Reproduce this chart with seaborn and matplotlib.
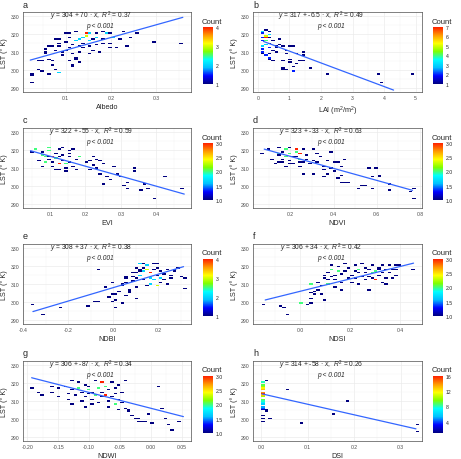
import numpy as np
import pandas as pd
import seaborn as sns
import matplotlib.pyplot as plt
from matplotlib.colors import LinearSegmentedColormap
from matplotlib.ticker import FixedLocator

# (x, LST, count) cells, one list per panel
a_pts = [
    (0.022, 293.2, 1), (0.024, 298.2, 1), (0.028, 297.4, 1), (0.038, 305.4, 1), (0.046, 305.3, 1),
    (0.044, 300.6, 1), (0.048, 299.6, 1), (0.052, 309.4, 1), (0.056, 310.3, 1), (0.063, 298.4, 1),
    (0.066, 306.4, 1), (0.070, 305.6, 1), (0.073, 302.6, 1), (0.077, 300.3, 1), (0.084, 299.0, 2),
    (0.058, 312.0, 1), (0.064, 313.6, 1), (0.070, 313.0, 1), (0.075, 311.2, 1), (0.080, 317.0, 1),
    (0.086, 317.2, 1), (0.089, 315.0, 1), (0.091, 310.2, 1), (0.095, 308.3, 1), (0.098, 320.1, 1),
    (0.100, 316.0, 1), (0.103, 311.0, 1), (0.106, 318.2, 1), (0.108, 312.5, 1), (0.110, 305.0, 1),
    (0.112, 303.0, 1), (0.113, 301.8, 1), (0.116, 314.2, 1), (0.118, 309.1, 1), (0.121, 316.3, 2),
    (0.123, 307.2, 1), (0.126, 306.4, 1), (0.128, 313.2, 1), (0.131, 317.3, 2), (0.133, 310.1, 1),
    (0.136, 318.2, 2), (0.139, 315.1, 1), (0.141, 312.2, 1), (0.144, 320.8, 4), (0.146, 319.2, 3),
    (0.149, 316.2, 2), (0.151, 309.5, 1), (0.153, 313.3, 1), (0.156, 320.1, 2), (0.159, 317.2, 1),
    (0.161, 311.1, 1), (0.166, 314.2, 1), (0.169, 318.3, 2), (0.171, 320.2, 1), (0.175, 310.4, 1),
    (0.179, 315.2, 1), (0.181, 320.9, 1), (0.186, 317.3, 1), (0.191, 320.2, 2), (0.195, 315.1, 1),
    (0.199, 320.3, 1), (0.201, 312.4, 1), (0.206, 318.2, 2), (0.211, 312.8, 1), (0.218, 317.2, 1),
    (0.226, 321.2, 1), (0.235, 313.5, 1), (0.240, 318.1, 1), (0.255, 320.4, 1), (0.298, 315.5, 1),
    (0.358, 314.5, 1), (0.110, 320.4, 1), (0.122, 321.1, 1), (0.085, 313.2, 1), (0.128, 304.3, 1),
]
b_pts = [
    (0.10, 313.2, 1), (0.12, 311.3, 2), (0.15, 316.2, 2), (0.16, 320.3, 2), (0.20, 321.2, 3),
    (0.24, 319.2, 5), (0.30, 318.1, 7), (0.30, 316.2, 4), (0.25, 314.2, 3), (0.35, 312.3, 2),
    (0.20, 310.2, 2), (0.30, 308.2, 2), (0.36, 307.1, 2), (0.41, 309.3, 1), (0.46, 305.4, 1),
    (0.20, 313.1, 2), (0.40, 315.2, 1), (0.36, 321.1, 1), (0.50, 316.2, 1), (0.55, 312.3, 1),
    (0.60, 310.2, 1), (0.64, 317.2, 1), (0.72, 314.2, 1), (0.77, 300.3, 1), (0.80, 313.1, 1),
    (0.84, 301.6, 1), (0.90, 309.2, 1), (0.95, 300.2, 1), (1.00, 313.3, 1), (1.04, 306.1, 1),
    (1.06, 304.2, 1), (1.10, 299.6, 2), (1.15, 302.4, 1), (1.20, 303.3, 1), (1.25, 309.2, 1),
    (1.30, 305.4, 1), (1.40, 305.2, 1), (1.45, 310.1, 1), (1.47, 308.6, 1), (1.65, 301.1, 1),
    (2.15, 298.2, 1), (3.85, 298.1, 1), (3.95, 293.2, 1), (4.95, 298.2, 1), (0.90, 311.2, 1),
    (0.60, 313.3, 1), (0.46, 311.1, 1), (0.15, 309.1, 1), (0.26, 322.1, 1), (0.42, 318.2, 1),
    (0.12, 318.1, 2), (0.40, 306.3, 1), (0.32, 319.3, 3), (0.80, 305.1, 1), (1.12, 313.0, 1),
]
c_pts = [
    (0.045, 318.5, 1), (0.062, 320.1, 2), (0.068, 314.2, 1), (0.074, 317.1, 2), (0.079, 311.2, 1),
    (0.085, 316.2, 2), (0.089, 313.1, 2), (0.094, 319.3, 2), (0.100, 321.1, 2), (0.101, 316.2, 1),
    (0.105, 311.1, 1), (0.110, 316.6, 3), (0.112, 313.2, 1), (0.116, 309.1, 1), (0.120, 315.3, 2),
    (0.124, 320.2, 1), (0.126, 312.1, 3), (0.130, 316.2, 1), (0.135, 321.2, 1), (0.139, 314.1, 1),
    (0.141, 310.2, 1), (0.145, 308.1, 1), (0.150, 312.3, 2), (0.151, 318.2, 1), (0.156, 316.1, 1),
    (0.160, 319.6, 1), (0.166, 320.2, 1), (0.165, 311.2, 1), (0.170, 315.1, 1), (0.176, 309.2, 1),
    (0.180, 316.2, 1), (0.186, 316.3, 1), (0.200, 313.2, 1), (0.210, 309.1, 1), (0.216, 314.2, 1),
    (0.221, 316.1, 1), (0.226, 311.3, 1), (0.231, 310.2, 1), (0.236, 315.1, 1), (0.240, 314.2, 1),
    (0.241, 306.6, 1), (0.250, 312.1, 1), (0.255, 301.2, 1), (0.260, 305.2, 1), (0.270, 303.3, 1),
    (0.276, 311.1, 1), (0.290, 306.6, 1), (0.300, 305.2, 1), (0.310, 300.3, 1), (0.320, 302.2, 1),
    (0.322, 299.1, 1), (0.335, 310.1, 1), (0.336, 308.2, 1), (0.355, 298.2, 1), (0.370, 301.1, 1),
    (0.372, 299.2, 1), (0.395, 293.2, 1), (0.420, 305.1, 1), (0.477, 299.2, 1), (0.130, 309.2, 1),
    (0.095, 315.1, 1), (0.140, 317.1, 1), (0.118, 318.2, 1), (0.080, 319.1, 1), (0.155, 313.2, 1),
]
d_pts = [
    (0.060, 318.1, 1), (0.100, 320.2, 1), (0.110, 314.6, 1), (0.130, 312.1, 1), (0.140, 317.2, 1),
    (0.150, 321.1, 1), (0.155, 318.2, 2), (0.160, 315.1, 1), (0.165, 319.2, 1), (0.170, 313.2, 1),
    (0.175, 316.1, 2), (0.180, 311.2, 1), (0.186, 320.2, 2), (0.190, 318.1, 2), (0.200, 321.2, 1),
    (0.202, 314.1, 1), (0.210, 316.2, 1), (0.216, 312.2, 1), (0.220, 319.1, 2), (0.228, 320.3, 3),
    (0.231, 316.1, 1), (0.236, 313.2, 1), (0.238, 318.2, 3), (0.245, 311.1, 1), (0.250, 315.2, 2),
    (0.256, 320.1, 1), (0.260, 313.6, 1), (0.266, 306.6, 1), (0.270, 317.1, 1), (0.280, 315.2, 1),
    (0.290, 312.1, 1), (0.300, 320.2, 1), (0.306, 306.6, 1), (0.310, 314.2, 1), (0.320, 318.1, 1),
    (0.330, 313.2, 1), (0.340, 316.1, 1), (0.350, 309.2, 1), (0.355, 305.1, 1), (0.360, 311.2, 1),
    (0.370, 307.1, 1), (0.376, 314.2, 1), (0.380, 319.1, 1), (0.390, 310.2, 1), (0.400, 313.1, 1),
    (0.406, 308.2, 1), (0.415, 304.1, 1), (0.420, 313.2, 1), (0.430, 302.1, 1), (0.436, 311.2, 1),
    (0.440, 306.1, 1), (0.446, 302.2, 1), (0.450, 315.1, 1), (0.470, 302.1, 1), (0.520, 299.2, 1),
    (0.536, 300.2, 1), (0.546, 300.1, 1), (0.556, 310.2, 1), (0.576, 299.1, 1), (0.580, 305.2, 1),
    (0.592, 310.1, 1), (0.610, 305.6, 1), (0.616, 306.2, 1), (0.656, 298.2, 1), (0.660, 301.2, 1),
    (0.756, 297.6, 1), (0.766, 299.1, 1), (0.780, 293.2, 1), (0.140, 313.1, 1), (0.195, 312.2, 1),
]
e_pts = [
    (-0.365, 299.1, 1), (-0.310, 293.2, 1), (-0.230, 297.6, 1), (-0.105, 298.2, 1), (-0.076, 300.6, 1),
    (-0.068, 300.1, 1), (-0.060, 318.1, 1), (-0.030, 308.2, 1), (-0.016, 303.1, 1), (-0.010, 310.6, 1),
    (0.000, 300.1, 1), (0.006, 304.6, 1), (0.016, 301.1, 1), (0.021, 306.1, 1), (0.040, 310.2, 1),
    (0.046, 299.6, 1), (0.050, 303.6, 1), (0.056, 313.1, 1), (0.061, 311.2, 1), (0.066, 306.1, 1),
    (0.071, 305.2, 1), (0.076, 307.1, 1), (0.081, 311.6, 1), (0.086, 316.2, 1), (0.091, 314.1, 1),
    (0.096, 308.2, 1), (0.101, 302.1, 1), (0.106, 319.2, 1), (0.111, 313.1, 1), (0.116, 317.2, 1),
    (0.121, 321.1, 2), (0.126, 315.2, 2), (0.131, 319.1, 1), (0.136, 312.2, 1), (0.141, 317.1, 2),
    (0.146, 309.2, 1), (0.151, 320.1, 2), (0.156, 318.2, 3), (0.158, 316.1, 4), (0.166, 313.2, 2),
    (0.171, 310.1, 2), (0.176, 321.2, 1), (0.181, 312.1, 2), (0.186, 318.2, 1), (0.190, 309.6, 3),
    (0.196, 315.1, 1), (0.201, 319.2, 1), (0.206, 313.1, 2), (0.211, 311.2, 1), (0.216, 317.1, 1),
    (0.221, 315.6, 1), (0.231, 312.1, 1), (0.236, 318.2, 1), (0.241, 310.1, 1), (0.251, 313.2, 1),
    (0.266, 317.1, 1), (0.276, 318.2, 1), (0.286, 319.1, 1), (0.300, 314.2, 1), (0.311, 313.1, 1),
    (0.326, 307.6, 1), (0.051, 314.1, 1), (0.036, 309.2, 1), (-0.006, 304.1, 1), (0.016, 297.6, 1),
    (0.100, 316.1, 1), (0.120, 318.1, 1), (0.140, 321.2, 1), (0.195, 321.1, 1), (0.260, 315.1, 1),
]
f_pts = [
    (-0.155, 299.1, 1), (-0.085, 298.2, 1), (-0.065, 297.1, 1), (-0.050, 293.2, 1), (0.000, 299.8, 2),
    (0.030, 299.1, 1), (0.040, 302.2, 1), (0.046, 299.6, 1), (0.042, 310.1, 2), (0.050, 305.1, 1),
    (0.056, 306.2, 1), (0.060, 304.1, 1), (0.070, 307.1, 1), (0.075, 311.2, 1), (0.080, 309.1, 1),
    (0.090, 304.2, 1), (0.095, 313.1, 1), (0.100, 301.2, 1), (0.101, 315.2, 1), (0.105, 310.1, 2),
    (0.110, 312.2, 1), (0.115, 316.1, 1), (0.120, 320.2, 1), (0.125, 314.1, 1), (0.130, 318.2, 2),
    (0.136, 308.1, 1), (0.140, 315.2, 1), (0.145, 312.1, 1), (0.150, 317.2, 2), (0.155, 319.6, 1),
    (0.160, 315.6, 1), (0.165, 311.1, 1), (0.170, 307.1, 1), (0.180, 321.2, 1), (0.185, 317.1, 1),
    (0.190, 313.2, 1), (0.200, 319.1, 1), (0.205, 315.2, 1), (0.210, 311.1, 1), (0.215, 317.2, 1),
    (0.220, 320.1, 1), (0.225, 313.2, 1), (0.230, 316.1, 1), (0.235, 310.2, 1), (0.240, 318.1, 2),
    (0.245, 314.2, 1), (0.250, 321.1, 1), (0.255, 312.2, 1), (0.260, 316.1, 1), (0.265, 319.2, 1),
    (0.270, 307.1, 1), (0.275, 314.2, 1), (0.280, 318.1, 1), (0.285, 316.2, 2), (0.290, 313.1, 1),
    (0.295, 320.2, 1), (0.300, 317.1, 2), (0.305, 312.2, 3), (0.310, 319.1, 1), (0.315, 315.2, 1),
    (0.320, 318.1, 1), (0.325, 311.2, 1), (0.330, 316.1, 1), (0.335, 320.2, 1), (0.340, 313.1, 1),
    (0.345, 318.2, 1), (0.350, 310.1, 1), (0.355, 316.2, 1), (0.360, 320.1, 1), (0.365, 313.2, 1),
    (0.370, 318.1, 1), (0.380, 320.2, 1), (0.385, 315.1, 1), (0.390, 318.2, 1), (0.395, 320.1, 1),
    (0.460, 318.2, 1),
]
g_pts = [
    (-0.195, 317.1, 1), (-0.180, 315.2, 1), (-0.178, 313.1, 1), (-0.160, 318.2, 1), (-0.158, 315.1, 1),
    (-0.150, 317.6, 1), (-0.148, 312.1, 1), (-0.140, 318.1, 1), (-0.135, 314.2, 1), (-0.132, 311.1, 1),
    (-0.130, 308.2, 1), (-0.128, 321.1, 1), (-0.125, 316.2, 1), (-0.120, 313.1, 1), (-0.118, 320.2, 1),
    (-0.115, 317.1, 2), (-0.112, 310.2, 1), (-0.110, 315.1, 1), (-0.108, 319.2, 1), (-0.105, 312.1, 1),
    (-0.103, 316.2, 2), (-0.100, 314.1, 1), (-0.098, 318.2, 1), (-0.095, 311.1, 1), (-0.093, 315.2, 1),
    (-0.090, 321.1, 1), (-0.088, 313.2, 2), (-0.085, 317.1, 2), (-0.083, 309.2, 1), (-0.081, 320.1, 3),
    (-0.079, 315.2, 1), (-0.078, 312.1, 1), (-0.075, 318.2, 2), (-0.073, 313.6, 3), (-0.070, 310.1, 1),
    (-0.068, 316.2, 1), (-0.065, 320.1, 1), (-0.063, 312.2, 1), (-0.060, 317.1, 1), (-0.058, 308.2, 2),
    (-0.056, 314.1, 1), (-0.054, 305.2, 1), (-0.052, 319.1, 1), (-0.050, 311.2, 1), (-0.048, 315.1, 1),
    (-0.045, 309.2, 1), (-0.042, 306.1, 1), (-0.040, 321.2, 1), (-0.038, 305.1, 1), (-0.035, 304.2, 1),
    (-0.030, 302.1, 1), (-0.025, 300.2, 1), (-0.022, 299.1, 1), (-0.018, 300.6, 1), (-0.015, 299.1, 1),
    (-0.010, 299.2, 1), (-0.005, 303.1, 1), (0.000, 298.2, 1), (0.015, 318.1, 1), (0.018, 306.2, 1),
    (0.025, 300.1, 1), (0.030, 297.2, 1), (0.035, 294.1, 1), (0.048, 299.1, 1), (-0.108, 307.2, 1),
    (-0.095, 308.1, 1), (-0.070, 307.2, 1),
]
h_pts = [
    (0.0, 320.2, 8), (0.0, 319.2, 9), (0.0, 318.2, 10), (0.0, 317.2, 12), (0.0, 316.2, 13),
    (0.0, 315.2, 14), (0.0, 314.2, 16), (0.0, 313.2, 13), (0.0, 312.2, 10), (0.0, 311.2, 9),
    (0.0, 310.2, 8), (0.0, 309.2, 7), (0.0, 308.2, 6), (0.0, 307.2, 5), (0.0, 306.2, 4),
    (0.0, 305.2, 2), (0.0, 302.2, 1), (0.0, 300.2, 1), (0.0, 299.2, 1),
    (0.01, 321.3, 1), (0.01, 305.6, 1), (0.01, 304.2, 1), (0.02, 300.1, 1), (0.055, 316.6, 1),
    (0.090, 298.2, 1), (0.155, 303.1, 1), (0.185, 310.2, 1), (0.335, 297.1, 1), (0.340, 293.2, 1),
]

letters = ["a", "b", "c", "d", "e", "f", "g", "h"]
xlabels = ["Albedo", "LAI (m$^2$/m$^2$)", "EVI", "NDVI", "NDBI", "NDSI", "NDWI", "DSI"]
xlims = [(0.006, 0.376), (-0.15, 5.2), (0.024, 0.498), (0.027, 0.81),
         (-0.39, 0.345), (-0.19, 0.489), (-0.207, 0.065), (-0.018, 0.346)]
xticks = [[0.1, 0.2, 0.3], [0, 1, 2, 3, 4, 5], [0.1, 0.2, 0.3, 0.4], [0.2, 0.4, 0.6, 0.8],
          [-0.4, -0.2, 0.0, 0.2], [0.0, 0.2, 0.4], [-0.20, -0.15, -0.10, -0.05, 0.00, 0.05],
          [0.0, 0.1, 0.2, 0.3]]
xfmt = ["%.1f", "%d", "%.1f", "%.1f", "%.1f", "%.1f", "%.2f", "%.1f"]
intercepts = [304, 317, 322, 323, 308, 306, 306, 314]
slopes = [70, -6.5, -55, -33, 37, 34, -87, -58]
r2 = [0.37, 0.49, 0.59, 0.63, 0.38, 0.42, 0.34, 0.26]
line_lo = [0.022, 0.18, 0.045, 0.079, -0.356, -0.141, -0.193, 0.0015]
line_hi = [0.358, 4.3, 0.479, 0.766, 0.312, 0.455, 0.0527, 0.333]
count_max = [4, 7, 3, 3, 4, 3, 3, 16]
count_ticks = [[1, 2, 3, 4], [1, 2, 3, 4, 5, 6, 7], [1.0, 1.5, 2.0, 2.5, 3.0], [1.0, 1.5, 2.0, 2.5, 3.0],
               [1, 2, 3, 4], [1.0, 1.5, 2.0, 2.5, 3.0], [1.0, 1.5, 2.0, 2.5, 3.0], [4, 8, 12, 16]]
count_fmt = ["%d", "%d", "%.1f", "%.1f", "%d", "%.1f", "%.1f", "%d"]
panels = [a_pts, b_pts, c_pts, d_pts, e_pts, f_pts, g_pts, h_pts]

sns.set_style("white")
plt.rcParams["font.family"] = ["Liberation Sans", "DejaVu Sans"]
plt.rcParams["mathtext.fontset"] = "custom"
plt.rcParams["mathtext.rm"] = "Liberation Sans"
plt.rcParams["mathtext.it"] = "Liberation Sans:italic"

cmap = LinearSegmentedColormap.from_list(
    "cnt", ["#00007F", "#0000FF", "#00BFFF", "#00FFFF", "#7FFF00", "#FFFF00", "#FF9900", "#FF2000"])

W, H = 461, 460
fig = plt.figure(figsize=(W / 100, H / 100), dpi=100)


def box(x, y, w, h):
    return [x / W, 1 - (y + h) / H, w / W, h / H]


row_top = [13, 129, 245, 362]
col_left = [23, 253]
col_w = [168, 169]
cb_left = [203, 433]
ph = 80
y_edges = np.arange(288, 332.1, 0.8)

for i, pts in enumerate(panels):
    r, c = divmod(i, 2)
    top = row_top[r]
    ax = fig.add_axes(box(col_left[c], top, col_w[c], ph))
    cax = fig.add_axes(box(cb_left[c], top + 15, 10, 57))

    df = pd.DataFrame(pts, columns=["x", "lst", "n"])
    x_edges = np.linspace(df["x"].min(), df["x"].max(), 46)
    sns.histplot(data=df, x="x", y="lst", weights="n", bins=(x_edges, y_edges),
                 cmap=cmap, vmin=1, vmax=count_max[i], cbar=True, cbar_ax=cax,
                 cbar_kws={"ticks": count_ticks[i], "format": count_fmt[i]}, ax=ax)

    lx = np.array([line_lo[i], line_hi[i]])
    ax.plot(lx, intercepts[i] + slopes[i] * lx, color="#3366FF", lw=0.9, zorder=3)

    ax.set_xlim(*xlims[i])
    ax.set_ylim(288, 332)
    ax.set_xticks(xticks[i])
    ax.set_xticklabels([xfmt[i] % v for v in xticks[i]])
    ax.set_yticks([290, 300, 310, 320, 330])
    step = xticks[i][1] - xticks[i][0]
    ax.xaxis.set_minor_locator(FixedLocator(np.arange(xticks[i][0] - step / 2, xlims[i][1], step)))
    ax.yaxis.set_minor_locator(FixedLocator(np.arange(285, 335, 10)))
    ax.set_axisbelow(True)
    ax.grid(which="major", color="#EBEBEB", lw=0.5)
    ax.grid(which="minor", color="#F2F2F2", lw=0.3)
    ax.tick_params(which="major", length=1.5, width=0.4, color="#333333",
                   labelsize=3.7, labelcolor="#4D4D4D", pad=1)
    ax.tick_params(which="minor", length=0)
    for sp in ax.spines.values():
        sp.set_color("#4D4D4D")
        sp.set_linewidth(0.5)
    ax.set_xlabel(xlabels[i], fontsize=5.2, labelpad=2)
    ax.set_ylabel("LST (° K)", fontsize=5.2, labelpad=2)

    ax.text(0.405, 0.96, f"$y$ = {intercepts[i]} + {slopes[i]:g} · $x$,  $R^2$ = {r2[i]:.2f}",
            transform=ax.transAxes, ha="center", va="center", fontsize=4.8)
    ax.text(0.46, 0.835, "p < 0.001", transform=ax.transAxes, ha="center", va="center",
            fontsize=4.8, fontstyle="italic")
    fig.text(col_left[c] / W, 1 - (top - 8) / H, letters[i], fontsize=6.5, ha="left", va="center")

    cax.spines["outline"].set_visible(False)
    cax.tick_params(left=True, right=True, labelleft=False, labelright=True, direction="in",
                    length=2, width=0.4, color="white", labelsize=3.7, pad=2)
    fig.text((cb_left[c] - 1) / W, 1 - (top + 9) / H, "Count", fontsize=5.5, ha="left", va="center")

fig.savefig("out.png", dpi=100)
